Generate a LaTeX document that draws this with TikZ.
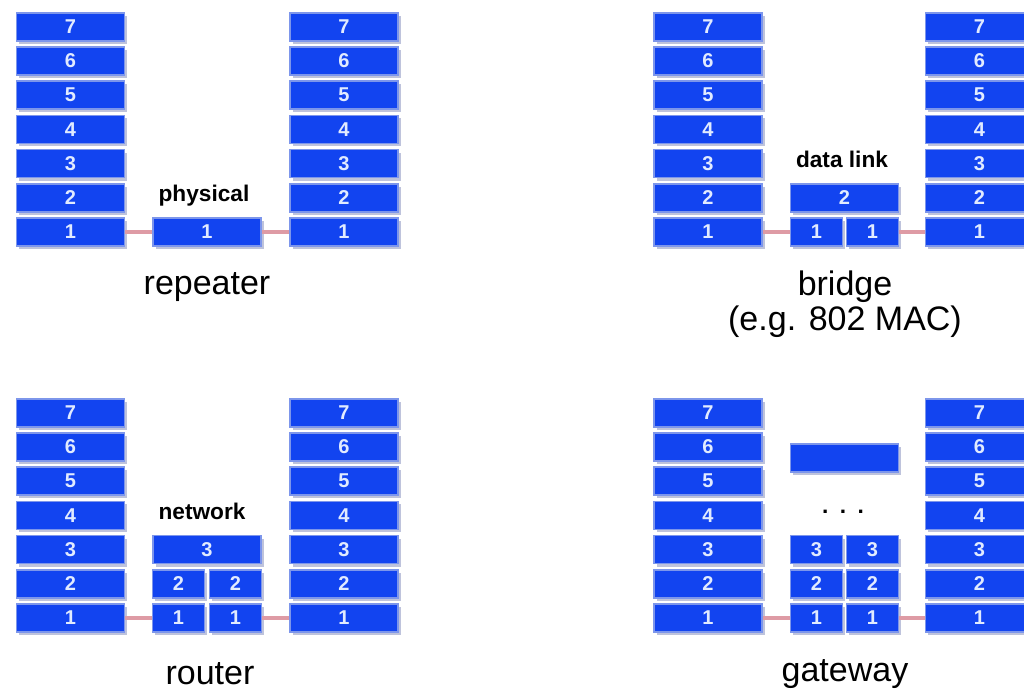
\documentclass[tikz,border=0pt]{standalone}
\usepackage{fontspec}
\setmainfont{Liberation Sans}
\usetikzlibrary{shadows}

\definecolor{layerblue}{RGB}{18,68,240}
\definecolor{layeredge}{RGB}{125,150,235}
\definecolor{layershade}{RGB}{190,195,220}
\definecolor{layertext}{RGB}{225,235,255}
\definecolor{linkpink}{RGB}{222,155,165}

\tikzset{
  layerbox/.style={draw=layeredge, line width=1.1pt, fill=layerblue, text=layertext,
    font=\fontsize{15}{15}\selectfont\bfseries, minimum width=81pt, minimum height=21pt,
    inner sep=0pt, drop shadow={shadow xshift=2.2pt, shadow yshift=-2.2pt, fill=layershade, opacity=1}},
  halfbox/.style={layerbox, minimum width=39pt},
  link/.style={draw=linkpink, line width=2.8pt},
  tag/.style={font=\fontsize{17}{17}\selectfont\bfseries},
  caption/.style={font=\fontsize{25.5}{26}\selectfont, align=center}
}

\begin{document}
\begin{tikzpicture}[x=0.75pt,y=0.75pt,yscale=-1,xscale=1]
\clip (0,0) rectangle (1024,693);

% repeater
\foreach \n in {1,...,7}
  \node[layerbox] (rpl\n) at (70.5,{232-(\n-1)*34.2}) {\n};
\foreach \n in {1,...,7}
  \node[layerbox] (rpr\n) at (344,{232-(\n-1)*34.2}) {\n};
\node[layerbox] (rpm1) at (207,232) {1};
\node[tag] (rptag) at (204,196) {physical};
\draw[link] (rpl1) -- (rpm1);
\draw[link] (rpm1) -- (rpr1);
\node[caption] (rpcap) at (207,287) {repeater};

% bridge
\foreach \n in {1,...,7}
  \node[layerbox] (brl\n) at (708,{232-(\n-1)*34.2}) {\n};
\foreach \n in {1,...,7}
  \node[layerbox] (brr\n) at (979.5,{232-(\n-1)*34.2}) {\n};
\node[halfbox] (brma1) at (816.5,232) {1};
\node[halfbox] (brmb1) at (872.5,232) {1};
\node[layerbox] (brm2) at (844.5,197.8) {2};
\node[tag] (brtag) at (842,159) {data link};
\draw[link] (brl1) -- (brma1);
\draw[link] (brmb1) -- (brr1);
\node[caption] (brcap) at (845,304.5) {bridge\\(e.g. 802 MAC)};

% router
\foreach \n in {1,...,7}
  \node[layerbox] (rtl\n) at (70.5,{618-(\n-1)*34.2}) {\n};
\foreach \n in {1,...,7}
  \node[layerbox] (rtr\n) at (344,{618-(\n-1)*34.2}) {\n};
\foreach \n in {1,2} {
  \node[halfbox] (rtma\n) at (178.5,{618-(\n-1)*34.2}) {\n};
  \node[halfbox] (rtmb\n) at (235.5,{618-(\n-1)*34.2}) {\n};
}
\node[layerbox] (rtm3) at (207,549.6) {3};
\node[tag] (rttag) at (202,511) {network};
\draw[link] (rtl1) -- (rtma1);
\draw[link] (rtmb1) -- (rtr1);
\node[caption] (rtcap) at (210,674) {router};

% gateway
\foreach \n in {1,...,7}
  \node[layerbox] (gwl\n) at (708,{618-(\n-1)*34.2}) {\n};
\foreach \n in {1,...,7}
  \node[layerbox] (gwr\n) at (979.5,{618-(\n-1)*34.2}) {\n};
\foreach \n in {1,2,3} {
  \node[halfbox] (gwma\n) at (816.5,{618-(\n-1)*34.2}) {\n};
  \node[halfbox] (gwmb\n) at (872.5,{618-(\n-1)*34.2}) {\n};
}
\node[layerbox] (gwtop) at (844.5,458) {};
\node[tag] (gwdots) at (843,512) {.\,\,\,.\,\,\,.};
\draw[link] (gwl1) -- (gwma1);
\draw[link] (gwmb1) -- (gwr1);
\node[caption] (gwcap) at (845,674) {gateway};

\end{tikzpicture}
\end{document}
